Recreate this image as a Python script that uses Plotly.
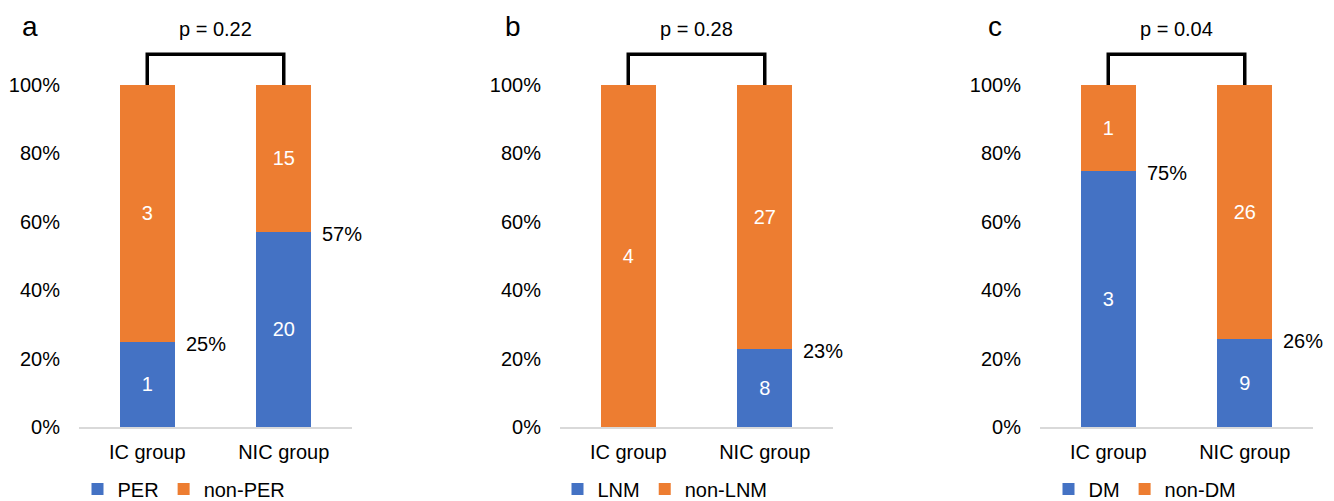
import plotly.graph_objects as go

categories = ["IC group", "NIC group"]
panel_letters = ["a", "b", "c"]
pos_names = ["PER", "LNM", "DM"]
neg_names = ["non-PER", "non-LNM", "non-DM"]
pos_counts = [[1, 20], [0, 8], [3, 9]]
neg_counts = [[3, 15], [4, 27], [1, 26]]
p_labels = ["p = 0.22", "p = 0.28", "p = 0.04"]
y_ticks = [0, 20, 40, 60, 80, 100]
y_tick_labels = ["0%", "20%", "40%", "60%", "80%", "100%"]

BLUE = "#4472C4"
ORANGE = "#ED7D31"
FONT = "Liberation Sans, Arial, sans-serif"
OFF = 8  # page body margin
W, H = 1334 - OFF, 501 - OFF

def px_x(x):
    return (x - OFF) / W

def px_y(y):
    return (H - (y - OFF)) / H

x_domains_px = [(79, 352), (560, 833), (1040, 1313)]
legend_centers_px = [184, 665, 1145]
letter_px = [30, 513, 995]
y0_px, y100_px = 427, 85

fig = go.Figure()
layout = dict(
    width=W, height=H, margin=dict(l=0, r=0, t=0, b=0, autoexpand=False),
    paper_bgcolor="white", plot_bgcolor="white",
    barmode="stack", barnorm="percent", bargap=0.6,
    font=dict(family=FONT, size=20, color="black"),
    showlegend=True,
)
shapes = []
annotations = []

for i in range(3):
    sfx = "" if i == 0 else str(i + 1)
    xa, ya = "x" + sfx, "y" + sfx
    leg = "legend" + sfx
    pos = pos_counts[i]
    neg = neg_counts[i]
    fig.add_trace(go.Bar(
        x=categories, y=pos, name=pos_names[i], marker=dict(color=BLUE, line=dict(width=0)),
        text=[str(v) if v > 0 else "" for v in pos], textposition="inside",
        insidetextanchor="middle", textangle=0, constraintext="none",
        textfont=dict(color="white", size=20, family=FONT),
        xaxis=xa, yaxis=ya, legend=leg, hoverinfo="skip"))
    fig.add_trace(go.Bar(
        x=categories, y=neg, name=neg_names[i], marker=dict(color=ORANGE, line=dict(width=0)),
        text=[str(v) if v > 0 else "" for v in neg], textposition="inside",
        insidetextanchor="middle", textangle=0, constraintext="none",
        textfont=dict(color="white", size=20, family=FONT),
        xaxis=xa, yaxis=ya, legend=leg, hoverinfo="skip"))

    d0, d1 = x_domains_px[i]
    layout["xaxis" + sfx] = dict(
        domain=[px_x(d0), px_x(d1)], range=[-0.5, 1.5], showline=True, linecolor="#D9D9D9",
        linewidth=2, showgrid=False, zeroline=False, ticks="", fixedrange=True,
        ticklabelstandoff=6, anchor=ya, tickfont=dict(size=20))
    layout["yaxis" + sfx] = dict(
        domain=[px_y(y0_px), px_y(y100_px)], range=[0, 100],
        tickmode="array", tickvals=y_ticks, ticktext=y_tick_labels,
        showline=False, showgrid=False, zeroline=False,
        ticks="", ticklabelstandoff=18, anchor=xa, tickfont=dict(size=20))
    layout[leg] = dict(
        orientation="h", x=px_x(legend_centers_px[i]), xanchor="center",
        y=px_y(489), yanchor="middle", font=dict(size=20), bgcolor="rgba(0,0,0,0)",
        traceorder="normal", itemclick=False, itemdoubleclick=False)

    # bracket
    shapes.append(dict(
        type="path", xref=xa, yref=ya + " domain",
        path="M 0,1 L 0,1.09 L 1,1.09 L 1,1",
        line=dict(color="black", width=3.5)))
    annotations.append(dict(
        x=0.5, xref=xa, y=1.165, yref=ya + " domain", text=p_labels[i],
        showarrow=False, font=dict(size=20), xanchor="center", yanchor="middle"))
    annotations.append(dict(
        x=px_x(letter_px[i]), xref="paper", y=px_y(27), yref="paper",
        text=panel_letters[i], showarrow=False, font=dict(size=28),
        xanchor="center", yanchor="middle"))
    # percentage labels
    for j in range(2):
        tot = pos[j] + neg[j]
        pct = 100.0 * pos[j] / tot
        if pos[j] > 0:
            annotations.append(dict(
                x=j + 0.2, xref=xa, y=pct, yref=ya, text=f"{round(pct)}%",
                showarrow=False, xanchor="left", yanchor="middle", xshift=9, yshift=-2,
                font=dict(size=20)))

layout["shapes"] = shapes
layout["annotations"] = annotations
fig.update_layout(**layout)
fig.write_html("out.html")
